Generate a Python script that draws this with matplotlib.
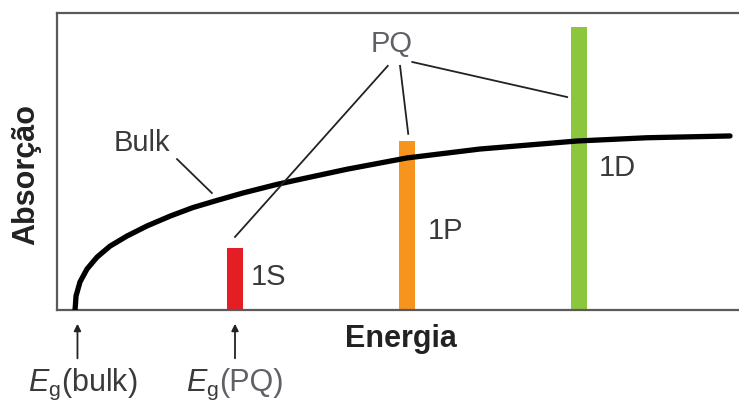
import matplotlib
matplotlib.use("Agg")
import matplotlib.pyplot as plt

plt.rcParams['font.family'] = ['Liberation Sans', 'DejaVu Sans']
plt.rcParams['mathtext.fontset'] = 'custom'
plt.rcParams['mathtext.rm'] = 'Liberation Sans'
plt.rcParams['mathtext.it'] = 'Liberation Sans:italic'

# Bulk absorption curve (arbitrary units)
bulk_x = [2.64, 2.71, 2.79, 3.37, 4.40, 5.87, 7.77, 10.26, 13.20, 16.57, 19.94,
          23.46, 27.27, 32.26, 35.63, 42.52, 51.32, 62.02, 76.25, 86.51, 98.68]
bulk_y = [0.0, 2.0, 4.71, 9.43, 13.8, 17.8, 21.5, 24.9, 28.3, 31.6, 34.5,
          36.9, 39.4, 42.3, 44.0, 47.4, 51.2, 54.2, 56.9, 58.0, 58.6]

# Quantum dot transitions
pq_labels = ['1S', '1P', '1D']
pq_x = [26.1, 51.3, 76.5]
pq_y = [20.9, 56.9, 95.3]
pq_colors = ['#e31e24', '#f7941e', '#8cc63e']

eg_bulk = 3.0
eg_pq = 26.1

fig = plt.figure(figsize=(7.39, 4.02), dpi=100)
ax = fig.add_axes([57/739, 1-311/402, 1-57/739, (311-14)/402])
ax.set_xlim(0, 100)
ax.set_ylim(0, 100)
for s in ['left', 'top', 'bottom']:
    ax.spines[s].set_color('#5a5a5a')
    ax.spines[s].set_linewidth(1.6)
ax.spines['right'].set_visible(False)
ax.set_xticks([])
ax.set_yticks([])

ax.bar(pq_x, pq_y, width=2.35, color=pq_colors, zorder=2)
ax.plot(bulk_x, bulk_y, color='black', lw=3.8, solid_capstyle='round',
        solid_joinstyle='round', zorder=3)

txt = '#3a3a3a'
fs = 21
ax.text(12.46, 56.6, 'Bulk', fontsize=fs, color=txt, ha='center', va='center')
ax.plot([17.6, 22.7], [50.8, 39.4], color='#222222', lw=1.3)

ax.text(28.4, 11.4, pq_labels[0], fontsize=fs, color=txt, ha='left', va='center')
ax.text(54.4, 26.9, pq_labels[1], fontsize=fs, color=txt, ha='left', va='center')
ax.text(79.5, 48.1, pq_labels[2], fontsize=fs, color=txt, ha='left', va='center')

ax.text(49.1, 89.9, 'PQ', fontsize=fs, color='#606068', ha='center', va='center')
ax.plot([48.5, 26.1], [82.2, 24.6], color='#222222', lw=1.3, zorder=4)
ax.plot([50.3, 51.5], [82.2, 59.3], color='#222222', lw=1.3, zorder=4)
ax.plot([52.1, 74.8], [83.5, 71.7], color='#222222', lw=1.3, zorder=4)

# Axis titles
ax.text(50.4, -9.5, 'Energia', fontsize=22, fontweight='bold', color='#222222',
        ha='center', va='center', clip_on=False)
fig.text(26/739, 1-175/402, 'Absorção', fontsize=22, fontweight='bold', color='#222222',
         rotation=90, ha='center', va='center')

# Band gap markers
for xv in [eg_bulk, eg_pq]:
    ax.annotate('', xy=(xv, -3.7), xytext=(xv, -17.2), xycoords='data',
                arrowprops=dict(arrowstyle='-|>', color='#222222', lw=1.3,
                                mutation_scale=10), annotation_clip=False)
ax.text(eg_bulk + 0.8, -26.9, r'$E_{\rm g}$(bulk)', fontsize=22, color=txt,
        ha='center', va='baseline', clip_on=False)
ax.text(23.7, -26.9, r'$E_{\rm g}$', fontsize=22, color=txt,
        ha='right', va='baseline', clip_on=False)
ax.text(23.7, -26.9, '(PQ)', fontsize=22, color='#606068',
        ha='left', va='baseline', clip_on=False)

fig.savefig('out.png', dpi=100)
